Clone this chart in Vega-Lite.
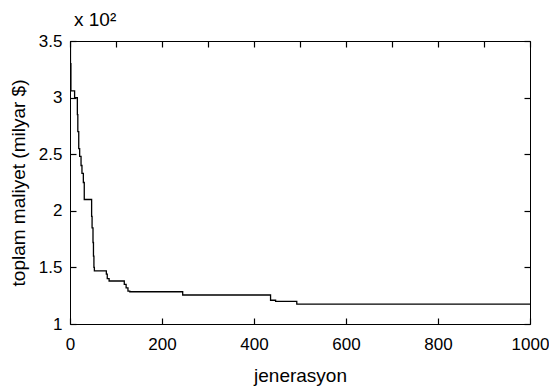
{
  "$schema": "https://vega.github.io/schema/vega-lite/v6.json",
  "width": 460,
  "height": 283,
  "autosize": {"type": "none"},
  "padding": {"left": 70, "top": 41, "right": 19, "bottom": 65},
  "background": "white",
  "config": {
    "font": "Liberation Sans",
    "view": {"stroke": "black", "strokeWidth": 1},
    "axis": {
      "domain": false,
      "grid": false,
      "ticks": true,
      "tickSize": -6,
      "tickColor": "black",
      "tickWidth": 1.2,
      "tickOpacity": 1,
      "labelColor": "black",
      "labelFontSize": 17,
      "labelFont": "Liberation Sans",
      "titleFont": "Liberation Sans",
      "titleFontSize": 19,
      "titleFontWeight": "normal",
      "titleColor": "black"
    }
  },
  "title": {
    "text": "x 10²",
    "anchor": "start",
    "frame": "group",
    "offset": 2,
    "dx": 4,
    "fontSize": 19,
    "fontWeight": "normal",
    "font": "Liberation Sans",
    "color": "black"
  },
  "data": {
    "values": [
      {"gen": 0, "cost": 3.5},
      {"gen": 1, "cost": 3.3},
      {"gen": 2, "cost": 3.06},
      {"gen": 9, "cost": 3.06},
      {"gen": 10, "cost": 3.0},
      {"gen": 15, "cost": 3.0},
      {"gen": 16, "cost": 2.85},
      {"gen": 17, "cost": 2.7},
      {"gen": 19, "cost": 2.55},
      {"gen": 21, "cost": 2.48},
      {"gen": 24, "cost": 2.4},
      {"gen": 26, "cost": 2.33},
      {"gen": 29, "cost": 2.25},
      {"gen": 31, "cost": 2.1},
      {"gen": 45, "cost": 2.1},
      {"gen": 47, "cost": 1.95},
      {"gen": 48, "cost": 1.85},
      {"gen": 50, "cost": 1.72},
      {"gen": 51, "cost": 1.6},
      {"gen": 52, "cost": 1.5},
      {"gen": 53, "cost": 1.47},
      {"gen": 76, "cost": 1.47},
      {"gen": 79, "cost": 1.44},
      {"gen": 81, "cost": 1.4},
      {"gen": 85, "cost": 1.38},
      {"gen": 115, "cost": 1.38},
      {"gen": 118, "cost": 1.35},
      {"gen": 122, "cost": 1.32},
      {"gen": 126, "cost": 1.29},
      {"gen": 130, "cost": 1.285},
      {"gen": 240, "cost": 1.285},
      {"gen": 245, "cost": 1.256},
      {"gen": 434, "cost": 1.256},
      {"gen": 436, "cost": 1.21},
      {"gen": 447, "cost": 1.2},
      {"gen": 491, "cost": 1.2},
      {"gen": 493, "cost": 1.175},
      {"gen": 1000, "cost": 1.175}
    ]
  },
  "layer": [
    {
      "mark": {"type": "line", "interpolate": "step-after", "color": "black", "strokeWidth": 1.3, "clip": true},
      "encoding": {
        "x": {
          "field": "gen",
          "type": "quantitative",
          "scale": {"domain": [0, 1000], "nice": false},
          "axis": {"orient": "bottom", "values": [0, 200, 400, 600, 800, 1000], "format": "d", "labelPadding": 18, "title": "jenerasyon", "titlePadding": 14, "labelFlush": false}
        },
        "y": {
          "field": "cost",
          "type": "quantitative",
          "scale": {"domain": [1, 3.5], "nice": false, "zero": false},
          "axis": {"orient": "left", "values": [1, 1.5, 2, 2.5, 3, 3.5], "format": "~g", "labelPadding": 14, "title": "toplam maliyet (milyar $)", "titlePadding": 10, "labelFlush": false}
        }
      }
    },
    {
      "mark": {"type": "line", "opacity": 0},
      "encoding": {
        "x": {
          "field": "gen",
          "type": "quantitative",
          "axis": {"orient": "top", "values": [0, 100, 200, 300, 400, 500, 600, 700, 800, 900, 1000], "labels": false, "title": null}
        },
        "y": {
          "field": "cost",
          "type": "quantitative",
          "axis": {"orient": "right", "values": [1, 1.5, 2, 2.5, 3, 3.5], "labels": false, "title": null}
        }
      }
    }
  ],
  "resolve": {"axis": {"x": "independent", "y": "independent"}}
}
